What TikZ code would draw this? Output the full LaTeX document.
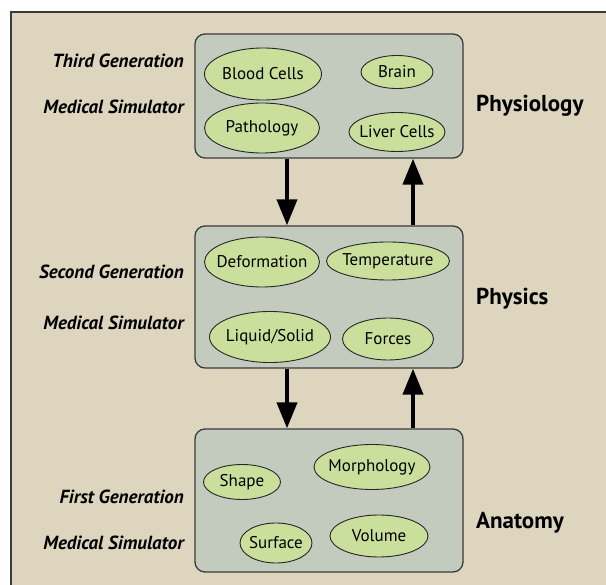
\documentclass[tikz,border=0pt]{standalone}
\usepackage{fontspec}
\setmainfont{PT Sans}
\usetikzlibrary{arrows.meta,shapes.geometric}
\definecolor{bgbeige}{HTML}{DDD5BE}
\definecolor{boxgray}{HTML}{C3CBBF}
\definecolor{ellgreen}{HTML}{C9DF9B}
\definecolor{framegray}{HTML}{3A3A3A}
\newcommand{\tighttext}[1]{\makebox[0pt]{#1}}
\tikzset{
  layerbox/.style={draw=framegray, line width=1.3pt, fill=boxgray, rounded corners=10pt, inner sep=0pt},
  topic/.style={ellipse, draw=black!85, line width=0.9pt, fill=ellgreen, inner sep=0pt, font=\fontsize{17}{19}\selectfont},
  genlabel/.style={anchor=east, inner sep=0pt, font=\fontsize{19}{21}\selectfont\bfseries\itshape},
  layerlabel/.style={anchor=west, inner sep=0pt, font=\fontsize{23}{25}\selectfont\bfseries},
  flow/.style={line width=4pt, -{Triangle[width=20pt,length=26pt]}},
}
\begin{document}
\begin{tikzpicture}[x=1pt,y=-1pt]
\useasboundingbox (0,0) rectangle (606,585);
\fill[white] (0,0) rectangle (606,585);
\fill[bgbeige] (11,12) rectangle (606,585);
\draw[framegray, line width=2pt] (11,585) -- (11,12) -- (606,12);

% layer boxes
\node[layerbox, minimum width=268pt, minimum height=124pt] (phys) at (329,96) {};
\node[layerbox, minimum width=268pt, minimum height=142pt] (mech) at (329,297) {};
\node[layerbox, minimum width=268pt, minimum height=143pt] (anat) at (329,500.5) {};

% physiology topics
\node[topic, minimum width=117pt, minimum height=52pt] (blood) at (263,74) {\tighttext{Blood Cells}};
\node[topic, minimum width=72pt, minimum height=33pt] (brain) at (397,72) {\tighttext{Brain}};
\node[topic, minimum width=115pt, minimum height=50pt] (patho) at (262,128) {\tighttext{Pathology}};
\node[topic, minimum width=96pt, minimum height=39pt] (liver) at (397,132) {\tighttext{Liver Cells}};

% physics topics
\node[topic, minimum width=115pt, minimum height=50pt] (deform) at (262,262) {\tighttext{Deformation}};
\node[topic, minimum width=123pt, minimum height=38pt] (temp) at (388,261) {\tighttext{Temperature}};
\node[topic, minimum width=121pt, minimum height=51pt] (liquid) at (270,337) {\tighttext{Liquid/Solid}};
\node[topic, minimum width=91pt, minimum height=42pt] (forces) at (388,339) {\tighttext{Forces}};

% anatomy topics
\node[topic, minimum width=77pt, minimum height=35pt] (shape) at (242,482) {\tighttext{Shape}};
\node[topic, minimum width=116pt, minimum height=45pt] (morph) at (372,467) {\tighttext{Morphology}};
\node[topic, minimum width=72pt, minimum height=40pt] (surf) at (276,543) {\tighttext{Surface}};
\node[topic, minimum width=98pt, minimum height=42pt] (vol) at (379,536) {\tighttext{Volume}};

% generation labels
\node[genlabel] (g3a) at (184,61) {Third Generation};
\node[genlabel] (g3b) at (184,107) {Medical Simulator};
\node[genlabel] (g2a) at (184,272) {Second Generation};
\node[genlabel] (g2b) at (184,323) {Medical Simulator};
\node[genlabel] (g1a) at (184,497) {First Generation};
\node[genlabel] (g1b) at (184,543) {Medical Simulator};

% layer labels
\node[layerlabel] (lphys) at (476,106) {Physiology};
\node[layerlabel] (lmech) at (476,299) {Physics};
\node[layerlabel] (lanat) at (476,523) {Anatomy};

% arrows
\coordinate (dx) at (287,0);
\coordinate (ux) at (413,0);
\draw[flow] (phys.south -| dx) -- (mech.north -| dx);
\draw[flow] (mech.north -| ux) -- (phys.south -| ux);
\draw[flow] (mech.south -| dx) -- (anat.north -| dx);
\draw[flow] (anat.north -| ux) -- (mech.south -| ux);
\end{tikzpicture}
\end{document}
